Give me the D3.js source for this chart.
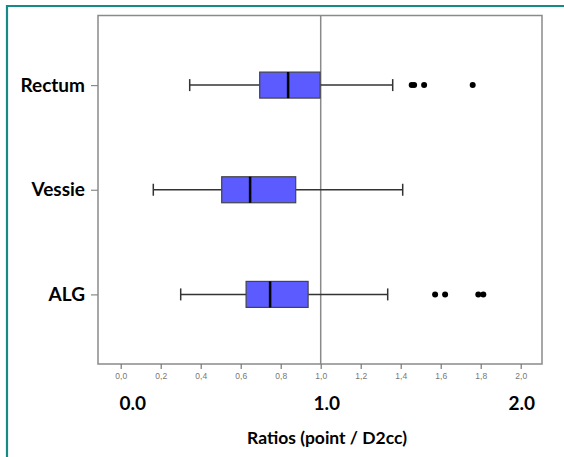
<!DOCTYPE html>
<html><head><meta charset="utf-8">
<script src="https://cdn.jsdelivr.net/npm/d3@7"></script>
<style>body{margin:0;background:#fff}svg{display:block}</style>
</head><body>
<script>
const categories = ["Rectum", "Vessie", "ALG"];
const whiskerLow = [0.345, 0.163, 0.30];
const q1 = [0.695, 0.505, 0.627];
const median = [0.837, 0.647, 0.747];
const q3 = [0.997, 0.875, 0.937];
const whiskerHigh = [1.36, 1.41, 1.335];
const outliers = [[1.455, 1.467, 1.517, 1.76], [], [1.572, 1.622, 1.788, 1.813]];
const tickValues = [0, 0.2, 0.4, 0.6, 0.8, 1.0, 1.2, 1.4, 1.6, 1.8, 2.0];
const bigTicks = [0, 1, 2];
const axisTitle = "Ratios (point / D2cc)";

const W = 564, H = 457;
const svg = d3.select("body").append("svg").attr("width", W).attr("height", H);

// teal frame
svg.append("path").attr("d", `M7,${H+5} L7,6 L${W+5},6`).attr("fill","none")
  .attr("stroke","#168a84").attr("stroke-width",2.2);

const L = 98, R = 542, T = 15.5, B = 364;
const x = d3.scaleLinear().domain([0, 2]).range([120.7, 520.7]);
const y = d3.scalePoint().domain(categories).range([T, B]).padding(0.665);

// frame
svg.append("rect").attr("x", L).attr("y", T).attr("width", R-L).attr("height", B-T)
  .attr("fill","none").attr("stroke","#8a8a8a").attr("stroke-width",1.5);

// reference line at 1.0
svg.append("line").attr("x1", x(1)).attr("x2", x(1)).attr("y1", T).attr("y2", B)
  .attr("stroke","#8a8a8a").attr("stroke-width",1.5);

// x axis small ticks
const xAxis = d3.axisBottom(x).tickValues(tickValues).tickSize(5).tickSizeOuter(0)
  .tickFormat(d => d3.format(".1f")(d).replace(".", ","));
const gx = svg.append("g").attr("transform", `translate(0,${B})`).call(xAxis);
gx.select(".domain").remove();
gx.selectAll(".tick line").attr("stroke","#777").attr("stroke-width",1.2);
gx.selectAll(".tick text").attr("fill","#777").attr("font-family","Liberation Sans, Arial, sans-serif")
  .attr("font-size",8.5).attr("dy","0.85em");

// y axis
const yAxis = d3.axisLeft(y).tickSize(7).tickSizeOuter(0).tickPadding(6);
const gy = svg.append("g").attr("transform", `translate(${L},0)`).call(yAxis);
gy.select(".domain").remove();
gy.selectAll(".tick line").attr("stroke","#8a8a8a").attr("stroke-width",1.2);
gy.selectAll(".tick text").attr("fill","#000").attr("font-family","Lato, sans-serif")
  .attr("font-weight","bold").attr("font-size",19);

// boxes
const bh = 26, cap = 12;
categories.forEach((c, i) => {
  const cy = y(c);
  const g = svg.append("g");
  g.append("line").attr("x1", x(whiskerLow[i])).attr("x2", x(q1[i])).attr("y1", cy).attr("y2", cy)
    .attr("stroke","#333").attr("stroke-width",1.5);
  g.append("line").attr("x1", x(q3[i])).attr("x2", x(whiskerHigh[i])).attr("y1", cy).attr("y2", cy)
    .attr("stroke","#333").attr("stroke-width",1.5);
  [whiskerLow[i], whiskerHigh[i]].forEach(v => {
    g.append("line").attr("x1", x(v)).attr("x2", x(v)).attr("y1", cy-cap/2).attr("y2", cy+cap/2)
      .attr("stroke","#333").attr("stroke-width",1.5);
  });
  g.append("rect").attr("x", x(q1[i])).attr("y", cy-bh/2).attr("width", x(q3[i])-x(q1[i])).attr("height", bh)
    .attr("fill","#5b5bff").attr("stroke","#444").attr("stroke-width",1.2);
  g.append("line").attr("x1", x(median[i])).attr("x2", x(median[i])).attr("y1", cy-bh/2).attr("y2", cy+bh/2)
    .attr("stroke","#000").attr("stroke-width",2.5);
  g.selectAll("circle").data(outliers[i]).enter().append("circle")
    .attr("cx", d => x(d)).attr("cy", cy).attr("r", 3).attr("fill","#000");
});

// big tick labels
svg.selectAll("text.big").data(bigTicks).enter().append("text").attr("class","big")
  .attr("x", d => x(d) + (d === 0 ? 12 : d === 1 ? 6 : 1)).attr("y", 410).attr("text-anchor","middle")
  .attr("font-family","Lato, sans-serif").attr("font-weight","bold").attr("font-size",19)
  .text(d => d3.format(".1f")(d));

svg.append("text").attr("x", 327).attr("y", 444).attr("text-anchor","middle")
  .attr("font-family","Lato, sans-serif").attr("font-weight","bold").attr("font-size",17.5)
  .text(axisTitle);
</script>
</body></html>
